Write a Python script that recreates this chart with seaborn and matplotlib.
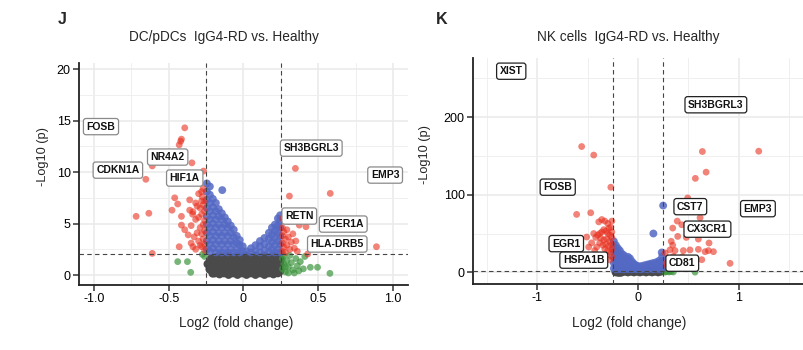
import matplotlib
matplotlib.use("Agg")
import matplotlib.pyplot as plt
import seaborn as sns
import pandas as pd
from matplotlib.ticker import MultipleLocator

sns.set_theme(style="white")
plt.rcParams['font.family'] = ['Liberation Sans', 'DejaVu Sans']

# ---------------- Panel J: DC/pDCs ----------------
J_TITLE = "DC/pDCs  IgG4-RD vs. Healthy"
J_XTICKS = [-1.0, -0.5, 0, 0.5, 1.0]
J_XTICKLABELS = ["-1.0", "-0.5", "0", "0.5", "1.0"]
J_YTICKS = [0, 5, 10, 15, 20]
J_YTICKLABELS = ["0", "5", "10", "15", "20"]

J_NS = [(-0.238, 1.07), (-0.205, 0.17), (-0.225, 0.55), (-0.215, 1.6),
        (-0.19, 0.2), (-0.19, 0.7), (-0.19, 1.2), (-0.19, 1.7),
        (-0.16, 0.1), (-0.16, 0.5), (-0.16, 0.95), (-0.16, 1.4), (-0.16, 1.85),
        (-0.13, 0.2), (-0.13, 0.7), (-0.13, 1.2), (-0.13, 1.7),
        (-0.10, 0.05), (-0.10, 0.5), (-0.10, 0.95), (-0.10, 1.4), (-0.10, 1.85),
        (-0.07, 0.2), (-0.07, 0.7), (-0.07, 1.2), (-0.07, 1.7),
        (-0.04, 0.05), (-0.04, 0.5), (-0.04, 0.95), (-0.04, 1.4), (-0.04, 1.85),
        (-0.01, 0.2), (-0.01, 0.7), (-0.01, 1.2), (-0.01, 1.7),
        (0.02, 0.05), (0.02, 0.5), (0.02, 0.95), (0.02, 1.4), (0.02, 1.85),
        (0.05, 0.2), (0.05, 0.7), (0.05, 1.2), (0.05, 1.7),
        (0.08, 0.05), (0.08, 0.5), (0.08, 0.95), (0.08, 1.4), (0.08, 1.85),
        (0.11, 0.2), (0.11, 0.7), (0.11, 1.2), (0.11, 1.7),
        (0.14, 0.05), (0.14, 0.5), (0.14, 0.95), (0.14, 1.4), (0.14, 1.85),
        (0.17, 0.2), (0.17, 0.7), (0.17, 1.2), (0.17, 1.7),
        (0.20, 0.1), (0.20, 0.5), (0.20, 0.95), (0.20, 1.4), (0.20, 1.85),
        (0.23, 0.2), (0.23, 0.7), (0.23, 1.2), (0.23, 1.7),
        (0.245, 0.4), (0.245, 1.0), (0.245, 1.5)]

J_FC = [(-0.44, 1.3), (-0.375, 1.3), (-0.353, 0.26), (-0.275, 2.0), (-0.26, 1.8),
        (0.26, 1.6), (0.27, 1.1), (0.26, 0.6), (0.28, 0.3), (0.29, 1.4), (0.30, 0.8),
        (0.31, 1.9), (0.32, 1.2), (0.33, 0.5), (0.35, 1.6), (0.36, 0.9), (0.38, 1.3),
        (0.40, 0.6), (0.41, 1.8), (0.27, 1.9), (0.30, 0.2), (0.34, 0.2), (0.37, 0.4),
        (0.28, 0.8), (0.447, 0.75), (0.495, 0.75), (0.578, 0.16)]

J_P = [(-0.245, 2.5), (-0.245, 3.3), (-0.245, 4.1), (-0.245, 4.9), (-0.245, 5.7), (-0.245, 6.5),
       (-0.245, 7.3), (-0.245, 8.1), (-0.245, 8.9),
       (-0.225, 2.3), (-0.225, 3.0), (-0.225, 3.8), (-0.225, 4.6), (-0.225, 5.4), (-0.225, 6.2),
       (-0.225, 7.0), (-0.225, 7.8), (-0.225, 8.6),
       (-0.205, 2.6), (-0.205, 3.4), (-0.205, 4.2), (-0.205, 5.0), (-0.205, 5.8), (-0.205, 6.6), (-0.205, 7.4),
       (-0.185, 2.2), (-0.185, 3.0), (-0.185, 3.8), (-0.185, 4.6), (-0.185, 5.4), (-0.185, 6.2), (-0.185, 7.0),
       (-0.165, 2.5), (-0.165, 3.3), (-0.165, 4.1), (-0.165, 4.9), (-0.165, 5.7), (-0.165, 6.4),
       (-0.145, 2.2), (-0.145, 3.0), (-0.145, 3.8), (-0.145, 4.6), (-0.145, 5.4), (-0.145, 6.0), (-0.142, 8.25),
       (-0.125, 2.5), (-0.125, 3.3), (-0.125, 4.1), (-0.125, 4.9), (-0.125, 5.6),
       (-0.105, 2.2), (-0.105, 3.0), (-0.105, 3.8), (-0.105, 4.6), (-0.105, 5.2),
       (-0.085, 2.5), (-0.085, 3.3), (-0.085, 4.1), (-0.085, 4.8),
       (-0.065, 2.2), (-0.065, 3.0), (-0.065, 3.7), (-0.065, 4.4),
       (-0.045, 2.4), (-0.045, 3.1), (-0.045, 3.8),
       (-0.025, 2.2), (-0.025, 2.9), (-0.025, 3.4),
       (-0.005, 2.3), (-0.005, 2.8),
       (0.02, 2.3), (0.05, 2.2), (0.05, 2.6), (0.08, 2.3), (0.08, 2.9),
       (0.11, 2.2), (0.11, 2.8), (0.11, 3.3), (0.14, 2.4), (0.14, 3.0), (0.14, 3.6),
       (0.17, 2.2), (0.17, 2.8), (0.17, 3.5), (0.17, 4.1),
       (0.19, 2.5), (0.19, 3.2), (0.19, 3.9), (0.19, 4.6),
       (0.21, 2.2), (0.21, 2.9), (0.21, 3.6), (0.21, 4.3), (0.21, 4.9),
       (0.23, 2.5), (0.23, 3.3), (0.23, 4.1), (0.23, 4.8), (0.23, 5.5),
       (0.245, 2.2), (0.245, 3.0), (0.245, 3.8), (0.245, 4.6), (0.245, 5.3), (0.245, 5.8)]

J_BOTH = [(-0.393, 14.3), (-0.42, 13.0), (-0.415, 13.2), (-0.43, 12.65), (-0.345, 10.9),
          (-0.61, 10.6), (-0.267, 10.1), (-0.653, 9.3), (-0.46, 7.5), (-0.44, 6.9),
          (-0.36, 7.3), (-0.28, 8.1), (-0.275, 7.6), (-0.30, 7.9), (-0.478, 6.3),
          (-0.633, 6.0), (-0.718, 5.7), (-0.415, 5.7), (-0.415, 4.85), (-0.393, 4.4),
          (-0.338, 6.15), (-0.43, 2.75), (-0.35, 3.1), (-0.338, 2.75), (-0.28, 2.75),
          (-0.61, 2.1),
          (-0.26, 7.2), (-0.27, 6.8), (-0.29, 6.5), (-0.31, 6.7), (-0.26, 6.2), (-0.28, 5.9),
          (-0.30, 5.6), (-0.32, 5.4), (-0.26, 5.3), (-0.27, 4.9), (-0.29, 4.6), (-0.26, 4.3),
          (-0.28, 4.0), (-0.31, 4.1), (-0.33, 3.7), (-0.27, 3.5), (-0.30, 3.3), (-0.26, 3.0),
          (-0.29, 2.9), (-0.26, 2.4), (-0.32, 2.5), (-0.35, 4.8), (-0.37, 3.9), (-0.34, 5.9),
          (-0.36, 6.3), (-0.28, 7.2), (-0.32, 7.0), (-0.27, 8.4),
          (0.347, 10.36), (0.58, 7.93), (0.307, 7.67), (0.889, 2.75), (0.418, 4.69),
          (0.373, 4.85), (0.429, 2.04),
          (0.26, 4.6), (0.27, 4.2), (0.29, 4.4), (0.26, 3.8), (0.28, 3.5), (0.30, 3.7),
          (0.32, 3.2), (0.26, 3.1), (0.27, 2.7), (0.29, 2.9), (0.31, 2.5), (0.26, 2.3),
          (0.34, 2.6), (0.35, 3.3), (0.28, 2.2), (0.33, 4.0), (0.30, 5.2), (0.26, 5.5),
          (0.36, 2.3)]

J_LABELS = ["FOSB", "CDKN1A", "NR4A2", "HIF1A", "SH3BGRL3", "EMP3", "RETN", "FCER1A", "HLA-DRB5"]
J_LABEL_X = [-0.953, -0.84, -0.507, -0.393, 0.453, 0.947, 0.373, 0.667, 0.627]
J_LABEL_Y = [14.42, 10.19, 11.46, 9.42, 12.33, 9.71, 5.73, 4.95, 3.01]

# ---------------- Panel K: NK cells ----------------
K_TITLE = "NK cells  IgG4-RD vs. Healthy"
K_XTICKS = [-1, 0, 1]
K_XTICKLABELS = ["-1", "0", "1"]
K_YTICKS = [0, 100, 200]
K_YTICKLABELS = ["0", "100", "200"]

K_NS = [(-0.22, 0.5), (-0.196, 0.0), (-0.19, 1.5), (-0.176, 0.0), (-0.16, 0.5), (-0.13, 1.5),
        (-0.10, 0.5), (-0.07, 1.5), (-0.04, 0.5), (-0.01, 1.5), (0.02, 0.5), (0.05, 1.5),
        (0.08, 0.5), (0.11, 1.5), (0.14, 0.5), (0.17, 1.5), (0.20, 0.5), (0.23, 1.5)]

K_FC = [(0.351, 0.5), (0.567, 0.3), (0.28, 1.0), (0.31, 0.5), (0.33, 1.2), (0.30, 1.5), (0.27, 0.3)]

K_P = [(0.25, 86), (0.153, 50), (0.236, 25.6),
       (-0.24, 5), (-0.24, 12), (-0.24, 19), (-0.24, 26), (-0.24, 33), (-0.24, 40),
       (-0.22, 4), (-0.22, 10), (-0.22, 16), (-0.22, 22), (-0.22, 28), (-0.22, 35),
       (-0.20, 6), (-0.20, 12), (-0.20, 18), (-0.20, 24), (-0.20, 31),
       (-0.18, 4), (-0.18, 10), (-0.18, 16), (-0.18, 22), (-0.18, 28),
       (-0.16, 6), (-0.16, 12), (-0.16, 18), (-0.16, 24),
       (-0.14, 4), (-0.14, 10), (-0.14, 16), (-0.14, 22),
       (-0.12, 6), (-0.12, 12), (-0.12, 18),
       (-0.10, 4), (-0.10, 10), (-0.10, 16), (-0.10, 20),
       (-0.08, 6), (-0.08, 12), (-0.08, 18),
       (-0.06, 4), (-0.06, 9), (-0.06, 14),
       (-0.04, 6), (-0.04, 11), (-0.02, 4), (-0.02, 9), (0.00, 5), (0.00, 8),
       (0.03, 4), (0.03, 8), (0.06, 5), (0.06, 9), (0.09, 4), (0.09, 8), (0.09, 10),
       (0.12, 5), (0.12, 9), (0.12, 11), (0.15, 4), (0.15, 8), (0.15, 12),
       (0.18, 5), (0.18, 9), (0.18, 13), (0.21, 4), (0.21, 8), (0.21, 12), (0.21, 15),
       (0.24, 5), (0.24, 10), (0.24, 15), (0.24, 20)]

K_BOTH = [(-0.56, 162), (-0.44, 151), (-0.27, 109.6), (-0.61, 74.6), (-0.47, 76.7),
          (-0.39, 65), (-0.51, 45.5), (-0.49, 32.6), (-0.41, 32.6), (-0.44, 50),
          (-0.36, 68), (-0.33, 66), (-0.30, 63), (-0.27, 58), (-0.26, 52), (-0.28, 48),
          (-0.30, 50), (-0.32, 53), (-0.34, 55), (-0.36, 52), (-0.38, 50), (-0.40, 48),
          (-0.42, 45), (-0.37, 44), (-0.34, 42), (-0.31, 43), (-0.28, 40), (-0.26, 36),
          (-0.29, 34), (-0.32, 36), (-0.35, 35), (-0.38, 38), (-0.30, 28), (-0.27, 26),
          (-0.33, 30), (-0.26, 20), (-0.28, 16), (-0.31, 22), (-0.26, 45), (-0.26, 30),
          (-0.46, 38), (-0.43, 28), (-0.29, 57), (-0.26, 66),
          (0.64, 155.6), (1.2, 156), (0.677, 129), (0.57, 121), (0.494, 95.8),
          (0.617, 70.4), (0.39, 66), (0.435, 61.3), (0.345, 57), (0.395, 46.3),
          (0.6, 42.8), (0.345, 35), (0.318, 28.9), (0.368, 28), (0.451, 28),
          (0.517, 28.9), (0.6, 29.6), (0.7, 28), (0.75, 26.6), (0.667, 26.6),
          (0.706, 37.8), (0.351, 20.5), (0.915, 11.6), (0.634, 16.3), (0.567, 11),
          (0.44, 20), (0.30, 18), (0.28, 12), (0.33, 40), (0.48, 45), (0.27, 25),
          (0.29, 8), (0.52, 18), (0.41, 12)]

K_LABELS = ["XIST", "SH3BGRL3", "FOSB", "CST7", "EMP3", "CX3CR1", "EGR1", "HSPA1B", "CD81"]
K_LABEL_X = [-1.26, 0.774, -0.798, 0.52, 1.192, 0.69, -0.713, -0.539, 0.44]
K_LABEL_Y = [259, 215.8, 109.7, 84.6, 82, 55.6, 37, 15.7, 11.8]

CATS = ["NS", "Log2 FC", "p-value", "p-value and log2 FC"]
PALETTE = {"NS": "#4A4A4A", "Log2 FC": "#3E953E", "p-value": "#5469C4", "p-value and log2 FC": "#E8301F"}
ALPHAS = {"NS": 1.0, "Log2 FC": 0.7, "p-value": 0.85, "p-value and log2 FC": 0.6}
SIZES = {"NS": 40, "Log2 FC": 24, "p-value": 32, "p-value and log2 FC": 24}


def make_df(ns, fc, p, both):
    rows = []
    for cat, pts in zip(CATS, [ns, fc, p, both]):
        for x, y in pts:
            rows.append((x, y, cat))
    return pd.DataFrame(rows, columns=["log2fc", "nlog10p", "cat"])


W, H = 804, 350
fig = plt.figure(figsize=(W / 100, H / 100), dpi=100)


def px_axes(x0, y0, x1, y1):
    return fig.add_axes([x0 / W, 1 - y1 / H, (x1 - x0) / W, (y1 - y0) / H])


def style(ax, xlim, ylim, xt, xtl, xminor, yt, ytl, yminor):
    ax.set_xlim(*xlim)
    ax.set_ylim(*ylim)
    ax.set_xticks(xt)
    ax.set_xticklabels(xtl)
    ax.set_yticks(yt)
    ax.set_yticklabels(ytl)
    ax.xaxis.set_minor_locator(MultipleLocator(xminor))
    ax.yaxis.set_minor_locator(MultipleLocator(yminor))
    ax.set_facecolor("white")
    ax.grid(which="major", color="#EBEBEB", lw=1.2)
    ax.grid(which="minor", color="#EFEFEF", lw=0.7)
    ax.set_axisbelow(True)
    for s in ["top", "right"]:
        ax.spines[s].set_visible(False)
    for s in ["left", "bottom"]:
        ax.spines[s].set_color("#222222")
        ax.spines[s].set_linewidth(1.3)
    ax.tick_params(which="major", direction="out", length=4, width=1.1, color="#333333",
                   labelsize=9, pad=2, labelcolor="black", left=True, bottom=True)
    ax.tick_params(which="minor", length=0)
    ax.set_xlabel("")
    ax.set_ylabel("")


def draw(ax, df, fcx, py, labels, lx, ly, edge):
    for c in CATS:
        sns.scatterplot(data=df[df["cat"] == c], x="log2fc", y="nlog10p",
                        color=PALETTE[c], s=SIZES[c], alpha=ALPHAS[c], linewidth=0,
                        edgecolor="none", legend=False, ax=ax, zorder=2)
    for coll in ax.collections:
        coll.set_edgecolor("none")
        coll.set_linewidth(0)
    for v in fcx:
        ax.axvline(v, color="#444444", lw=0.8, ls=(0, (4, 3)), zorder=3)
    ax.axhline(py, color="#444444", lw=0.8, ls=(0, (4, 3)), zorder=3)
    for t, x, y in zip(labels, lx, ly):
        ax.text(x, y, t, ha="center", va="center", fontsize=7.5, fontweight="bold",
                color="#111111", zorder=5,
                bbox=dict(boxstyle="round,pad=0.3,rounding_size=0.25", fc="white",
                          ec=edge, lw=0.9))


# Panel J
axJ = px_axes(79, 63, 408, 285)
dfJ = make_df(J_NS, J_FC, J_P, J_BOTH)
draw(axJ, dfJ, [-0.25, 0.25], 2, J_LABELS, J_LABEL_X, J_LABEL_Y, "#8A8A8A")
style(axJ, (-1.1, 1.1), (-0.97, 20.6), J_XTICKS, J_XTICKLABELS, 0.25,
      J_YTICKS, J_YTICKLABELS, 2.5)

# Panel K
axK = px_axes(473, 58, 804, 284)
dfK = make_df(K_NS, K_FC, K_P, K_BOTH)
draw(axK, dfK, [-0.25, 0.25], 2, K_LABELS, K_LABEL_X, K_LABEL_Y, "#222222")
style(axK, (-1.64, 1.65), (-15, 276), K_XTICKS, K_XTICKLABELS, 0.5,
      K_YTICKS, K_YTICKLABELS, 50)

# Titles, panel letters, axis labels
fig.text(224 / W, 1 - 37 / H, J_TITLE, ha="center", va="center", fontsize=9.8)
fig.text(628 / W, 1 - 37 / H, K_TITLE, ha="center", va="center", fontsize=9.8)
fig.text(62 / W, 1 - 19 / H, "J", ha="center", va="center", fontsize=11.5, fontweight="bold")
fig.text(442 / W, 1 - 19 / H, "K", ha="center", va="center", fontsize=11.5, fontweight="bold")
fig.text(236 / W, 1 - 323 / H, "Log2 (fold change)", ha="center", va="center", fontsize=9.8)
fig.text(629 / W, 1 - 323 / H, "Log2 (fold change)", ha="center", va="center", fontsize=9.8)
fig.text(43 / W, 1 - 156 / H, "-Log10 (p)", ha="center", va="center", rotation=90, fontsize=9.2)
fig.text(425 / W, 1 - 155 / H, "-Log10 (p)", ha="center", va="center", rotation=90, fontsize=9.2)

fig.savefig("out.png", dpi=100)
